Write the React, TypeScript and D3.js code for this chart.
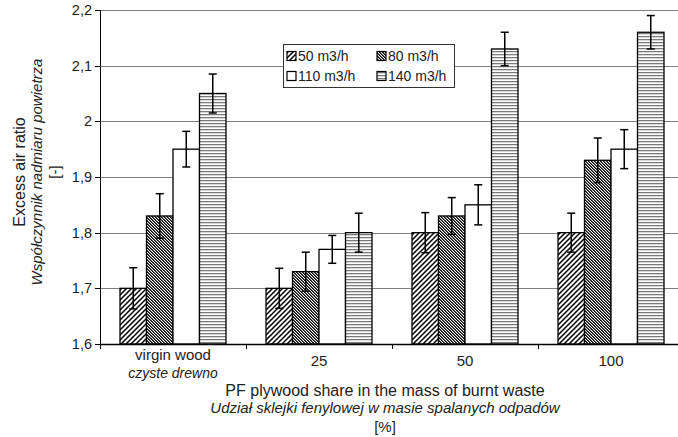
import React from "react";
import * as d3 from "d3";

const categories = ["virgin wood", "25", "50", "100"];
const categoriesPl = ["czyste drewno", "", "", ""];
const series = ["50 m3/h", "80 m3/h", "110 m3/h", "140 m3/h"];
const values50 = [1.7, 1.7, 1.8, 1.8];
const values80 = [1.83, 1.73, 1.83, 1.93];
const values110 = [1.95, 1.77, 1.85, 1.95];
const values140 = [2.05, 1.8, 2.13, 2.16];
const err50 = [0.037, 0.036, 0.036, 0.035];
const err80 = [0.04, 0.035, 0.033, 0.04];
const err110 = [0.032, 0.025, 0.036, 0.035];
const err140 = [0.035, 0.035, 0.03, 0.03];
const yTicks = [1.6, 1.7, 1.8, 1.9, 2.0, 2.1, 2.2];

const W = 678;
const H = 437;
const left = 100;
const right = 684;
const top = 10;
const bottom = 344;

const font = "'Liberation Sans', Arial, sans-serif";

export default function App() {
  const y = d3.scaleLinear().domain([1.6, 2.2]).range([bottom, top]);
  const x0 = d3.scaleBand<string>().domain(categories).range([left, right]).padding(0);
  const bw = x0.bandwidth();
  const pad = bw * 0.137;
  const x1 = d3.scaleBand<string>().domain(series).range([pad, bw - pad]).padding(0);
  const vals = [values50, values80, values110, values140];
  const errs = [err50, err80, err110, err140];
  const fills = ["url(#p50)", "url(#p80)", "#ffffff", "url(#p140)"];
  const fmt = (v: number) => (Math.round(v * 10) / 10 === Math.round(v) ? String(Math.round(v)) : v.toFixed(1).replace(".", ","));
  const boundaries = d3.range(categories.length + 1).map((i) => left + i * bw);
  const midY = 172;

  const legendX = 283;
  const legendY = 44;
  const legendCols = [287, 377];
  const legendRows = [56, 76];

  return (
    <svg width={W} height={H} style={{ position: "absolute", left: 0, top: 0, background: "#fff" }} fontFamily={font}>
      <defs>
        <pattern id="p50" patternUnits="userSpaceOnUse" width="5" height="5">
          <rect width="5" height="5" fill="#fff" />
          <path d="M-1,6 L6,-1 M-1,1 L1,-1 M4,6 L6,4" stroke="#000" strokeWidth="1.5" />
        </pattern>
        <pattern id="p80" patternUnits="userSpaceOnUse" width="3" height="3">
          <rect width="3" height="3" fill="#fff" />
          <rect x="0" y="0" width="1" height="1" fill="#000" />
          <rect x="1" y="1" width="1" height="1" fill="#000" />
          <rect x="2" y="2" width="1" height="1" fill="#000" />
          <rect x="1" y="0" width="1" height="1" fill="#555" />
          <rect x="2" y="1" width="1" height="1" fill="#555" />
          <rect x="0" y="2" width="1" height="1" fill="#555" />
        </pattern>
        <pattern id="p140" patternUnits="userSpaceOnUse" width="4" height="3">
          <rect width="4" height="3" fill="#fff" />
          <rect x="0" y="0" width="4" height="1" fill="#7a7a7a" />
          <rect x="0" y="1" width="4" height="1" fill="#d8d8d8" />
        </pattern>
      </defs>

      {/* gridlines */}
      {yTicks.map((t) => (
        <line key={"g" + t} x1={left} x2={right} y1={Math.round(y(t)) + 0.5} y2={Math.round(y(t)) + 0.5} stroke="#808080" strokeWidth={1} />
      ))}

      {/* bars */}
      {categories.map((c, ci) => (
        <g key={c} transform={`translate(${x0(c)},0)`}>
          {series.map((s, si) => (
            <rect
              key={s}
              x={x1(s)}
              y={y(vals[si][ci])}
              width={x1.bandwidth()}
              height={bottom - y(vals[si][ci])}
              fill={fills[si]}
              stroke="#000"
              strokeWidth={1.3}
            />
          ))}
          {series.map((s, si) => {
            const cx = (x1(s) as number) + x1.bandwidth() / 2;
            const v = vals[si][ci];
            const e = errs[si][ci];
            return (
              <g key={"e" + s} stroke="#000" strokeWidth={1.5}>
                <line x1={cx} x2={cx} y1={y(v + e)} y2={y(v - e)} />
                <line x1={cx - 4} x2={cx + 4} y1={y(v + e)} y2={y(v + e)} />
                <line x1={cx - 4} x2={cx + 4} y1={y(v - e)} y2={y(v - e)} />
              </g>
            );
          })}
        </g>
      ))}

      {/* axes */}
      <line x1={left + 0.5} x2={left + 0.5} y1={top} y2={bottom} stroke="#000" strokeWidth={1} />
      <line x1={left} x2={right} y1={bottom + 0.5} y2={bottom + 0.5} stroke="#000" strokeWidth={1.3} />
      {yTicks.map((t) => (
        <g key={"t" + t}>
          <line x1={left - 5} x2={left} y1={Math.round(y(t)) + 0.5} y2={Math.round(y(t)) + 0.5} stroke="#000" />
          <text x={left - 8} y={y(t)} dy="0.35em" textAnchor="end" fontSize={14.5} fill="#222">
            {fmt(t)}
          </text>
        </g>
      ))}
      {boundaries.map((bx, i) => (
        <line key={"xt" + i} x1={Math.round(bx) + 0.5} x2={Math.round(bx) + 0.5} y1={bottom} y2={bottom + 5} stroke="#000" />
      ))}
      {categories.map((c, ci) => (
        <g key={"xl" + c}>
          <text x={(x0(c) as number) + bw / 2} y={categoriesPl[ci] ? 355 : 361} dy="0.35em" textAnchor="middle" fontSize={15} fill="#222">
            {c}
          </text>
          {categoriesPl[ci] && (
            <text x={(x0(c) as number) + bw / 2} y={373} dy="0.35em" textAnchor="middle" fontSize={14} fontStyle="italic" fill="#222">
              {categoriesPl[ci]}
            </text>
          )}
        </g>
      ))}

      {/* x title */}
      <text x={385} y={390} dy="0.35em" textAnchor="middle" fontSize={16} fill="#222">
        PF plywood share in the mass of burnt waste
      </text>
      <text x={385} y={408} dy="0.35em" textAnchor="middle" fontSize={15} fontStyle="italic" fill="#222">
        Udział sklejki fenylowej w masie spalanych odpadów
      </text>
      <text x={385} y={427} dy="0.35em" textAnchor="middle" fontSize={15} fill="#222">
        [%]
      </text>

      {/* y title */}
      <g transform={`translate(19,${midY}) rotate(-90)`}>
        <text x={0} y={0} dy="0.35em" textAnchor="middle" fontSize={16} fill="#222">
          Excess air ratio
        </text>
      </g>
      <g transform={`translate(37,${midY}) rotate(-90)`}>
        <text x={0} y={0} dy="0.35em" textAnchor="middle" fontSize={15} fontStyle="italic" fill="#222">
          Współczynnik nadmiaru powietrza
        </text>
      </g>
      <g transform={`translate(55,${midY}) rotate(-90)`}>
        <text x={0} y={0} dy="0.35em" textAnchor="middle" fontSize={15} fill="#222">
          [-]
        </text>
      </g>

      {/* legend */}
      <rect x={legendX + 0.5} y={legendY + 0.5} width={171} height={43} fill="#fff" stroke="#333" strokeWidth={1} />
      {series.map((s, si) => {
        const lx = legendCols[si % 2];
        const ly = legendRows[Math.floor(si / 2)];
        return (
          <g key={"lg" + s}>
            <rect x={lx} y={ly - 4.5} width={9} height={9} fill={fills[si]} stroke="#000" strokeWidth={1.2} />
            <text x={lx + 11} y={ly} dy="0.35em" fontSize={14} fill="#222">
              {s}
            </text>
          </g>
        );
      })}
    </svg>
  );
}
